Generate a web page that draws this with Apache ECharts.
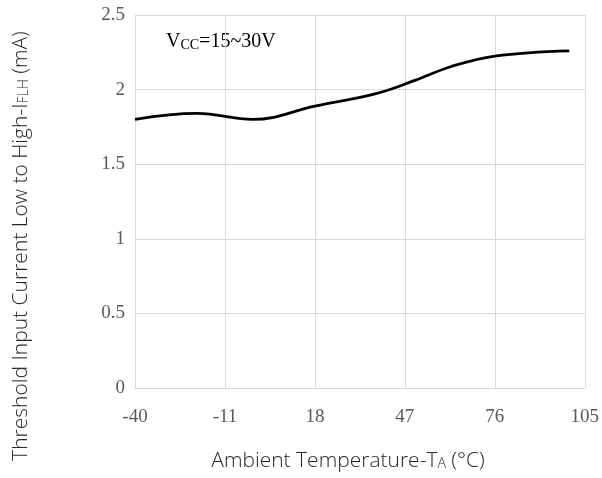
<!DOCTYPE html>
<html>
<head>
<meta charset="utf-8">
<script src="https://cdn.jsdelivr.net/npm/echarts@6/dist/echarts.min.js"></script>
<style>
html,body{margin:0;padding:0;background:#fff;}
#chart{width:602px;height:478px;}
</style>
</head>
<body>
<div id="chart"></div>
<script>
// Data
const temperature = [-40, -20, -2, 18, 38, 50, 62, 76, 100];
const currentFLH = [1.80, 1.84, 1.80, 1.89, 1.975, 2.06, 2.155, 2.225, 2.26];
const xTicks = [-40, -11, 18, 47, 76, 105];
const yTicks = [0, 0.5, 1, 1.5, 2, 2.5];
const annotation = 'V{sub|CC}=15~30V';
const xTitle = 'Ambient Temperature-T{sub|A} (°C)';
const yTitle = 'Threshold Input Current Low to High-I{sub|FLH} (mA)';

const chart = echarts.init(document.getElementById('chart'));
const tickFont = 'Liberation Serif';
const titleFont = 'Open Sans';
chart.setOption({
  animation: false,
  backgroundColor: '#fff',
  grid: {left: 135, right: 16, top: 15, bottom: 90, containLabel: false},
  xAxis: {
    type: 'value',
    min: xTicks[0], max: xTicks[xTicks.length - 1], interval: 29,
    axisLine: {show: true, lineStyle: {color: '#d9d9d9', width: 1}},
    axisTick: {show: false},
    splitLine: {show: true, lineStyle: {color: '#d9d9d9', width: 1}},
    axisLabel: {color: '#595959', fontFamily: tickFont, fontSize: 19, margin: 20}
  },
  yAxis: {
    type: 'value',
    min: yTicks[0], max: yTicks[yTicks.length - 1], interval: 0.5,
    axisLine: {show: false},
    axisTick: {show: false},
    splitLine: {show: true, lineStyle: {color: '#d9d9d9', width: 1}},
    axisLabel: {color: '#595959', fontFamily: tickFont, fontSize: 19, margin: 10}
  },
  graphic: [{
    type: 'text', left: 166, top: 32,
    style: {
      text: annotation,
      fontFamily: 'Liberation Serif', fontSize: 20, fill: '#000',
      rich: {sub: {fontFamily: 'Liberation Serif', fontSize: 14, fill: '#000', padding: [6, 0, 0, 0]}}
    }
  }, {
    type: 'text', x: 348, y: 461,
    style: {
      text: xTitle, align: 'center', verticalAlign: 'middle',
      fontFamily: titleFont, fontWeight: 300, fontSize: 21, fill: '#262626',
      rich: {sub: {fontFamily: titleFont, fontWeight: 300, fontSize: 14, fill: '#262626', padding: [7, 0, 0, 0]}}
    }
  }, {
    type: 'text', x: 21, y: 246, rotation: Math.PI / 2,
    style: {
      text: yTitle, align: 'center', verticalAlign: 'middle',
      fontFamily: titleFont, fontWeight: 300, fontSize: 21, fill: '#262626',
      rich: {sub: {fontFamily: titleFont, fontWeight: 300, fontSize: 14, fill: '#262626', padding: [7, 0, 0, 0]}}
    }
  }],
  series: [{
    type: 'line',
    data: temperature.map((t, i) => [t, currentFLH[i]]),
    smooth: 0.4,
    showSymbol: false,
    lineStyle: {color: '#000', width: 2.8}
  }]
});
</script>
</body>
</html>
